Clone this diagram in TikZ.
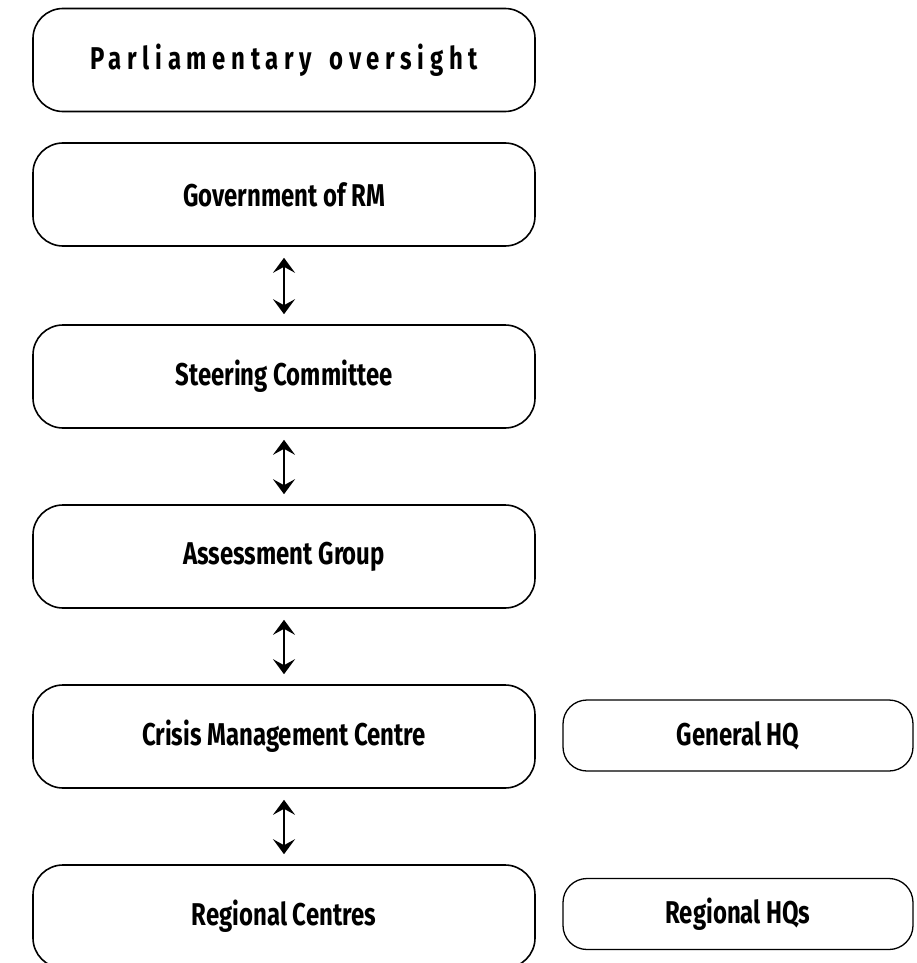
\documentclass[tikz,border=0pt]{standalone}
\usepackage{fontspec}
\setmainfont{Fira Sans}[FakeStretch=0.76]
\usetikzlibrary{arrows.meta}
\tikzset{
  bigbox/.style={draw=black, line width=1.6pt, rounded corners=30pt, minimum width=502pt, minimum height=103pt, inner sep=0pt, font=\fontsize{31.5}{34}\selectfont\bfseries},
  smallbox/.style={draw=black, line width=1.3pt, rounded corners=24pt, minimum width=350pt, minimum height=71pt, inner sep=0pt, font=\fontsize{31.5}{34}\selectfont\bfseries},
  link/.style={line width=1.8pt, {Stealth[length=15pt,width=22pt,inset=6pt]}-{Stealth[length=15pt,width=22pt,inset=6pt]}, shorten <=11pt, shorten >=10pt}
}
\begin{document}
\begin{tikzpicture}[x=1pt,y=-1pt]
\useasboundingbox (0,0) rectangle (916,963);
\node[bigbox] (parl) at (284,60) {\addfontfeature{LetterSpace=18}Parliamentary\hspace{6pt} oversight};
\node[bigbox] (gov) at (284,194.5) {Government of RM};
\node[bigbox] (steer) at (284,376.5) {Steering Committee};
\node[bigbox] (assess) at (284,556.5) {Assessment Group};
\node[bigbox] (crisis) at (284,736.5) {Crisis Management Centre};
\node[bigbox] (reg) at (284,916.5) {Regional Centres};
\node[smallbox] (ghq) at (738,735.5) {General HQ};
\node[smallbox] (rhq) at (738,914) {Regional HQs};
\draw[link] (gov.south) -- (steer.north);
\draw[link] (steer.south) -- (assess.north);
\draw[link] (assess.south) -- (crisis.north);
\draw[link] (crisis.south) -- (reg.north);
\end{tikzpicture}
\end{document}
